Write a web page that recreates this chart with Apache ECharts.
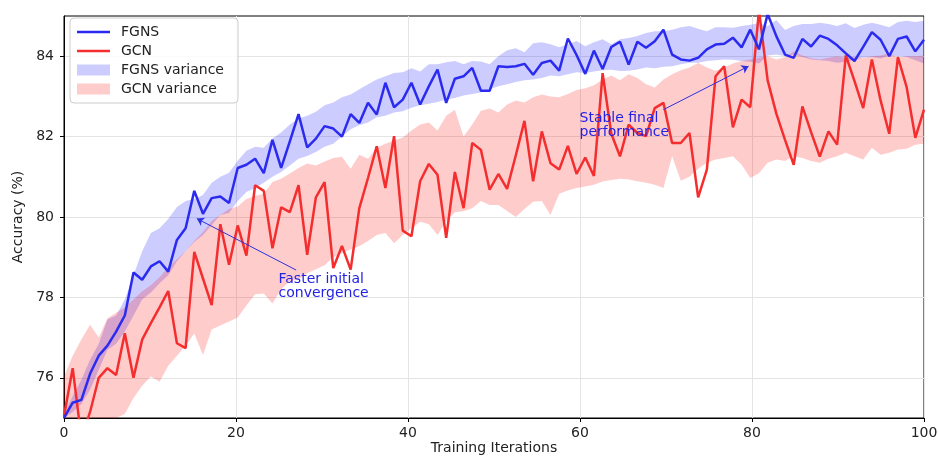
<!DOCTYPE html>
<html>
<head>
<meta charset="utf-8">
<script src="https://cdn.jsdelivr.net/npm/echarts@6/dist/echarts.min.js"></script>
<style>
html,body{margin:0;padding:0;background:#fff;}
#chart{width:938px;height:457px;}
</style>
</head>
<body>
<div id="chart"></div>
<script>
// x positions of the 100 training samples (0..100)
const iterations = [0,1.01,2.02,3.03,4.04,5.05,6.06,7.07,8.08,9.09,
10.1,11.11,12.12,13.13,14.14,15.15,16.16,17.17,18.18,19.19,
20.2,21.21,22.22,23.23,24.24,25.25,26.26,27.27,28.28,29.29,
30.3,31.31,32.32,33.33,34.34,35.35,36.36,37.37,38.38,39.39,
40.4,41.41,42.42,43.43,44.44,45.45,46.46,47.47,48.48,49.49,
50.51,51.52,52.53,53.54,54.55,55.56,56.57,57.58,58.59,59.6,
60.61,61.62,62.63,63.64,64.65,65.66,66.67,67.68,68.69,69.7,
70.71,71.72,72.73,73.74,74.75,75.76,76.77,77.78,78.79,79.8,
80.81,81.82,82.83,83.84,84.85,85.86,86.87,87.88,88.89,89.9,
90.91,91.92,92.93,93.94,94.95,95.96,96.97,97.98,98.99,100];

const fgnsAccuracy = [75.0,75.38,75.45,76.1,76.55,76.8,77.15,77.55,78.62,78.44,
78.77,78.9,78.64,79.43,79.72,80.65,80.08,80.47,80.51,80.35,
81.22,81.3,81.45,81.09,81.92,81.22,81.88,82.56,81.73,81.95,
82.26,82.2,82.0,82.56,82.34,82.84,82.55,83.34,82.73,82.92,
83.34,82.8,83.25,83.67,82.84,83.44,83.5,83.71,83.14,83.14,
83.75,83.73,83.75,83.81,83.54,83.83,83.89,83.64,84.44,84.03,
83.56,84.14,83.68,84.23,84.36,83.79,84.36,84.21,84.37,84.66,
84.04,83.92,83.89,83.96,84.17,84.29,84.31,84.46,84.22,84.66,
84.17,85.05,84.5,84.04,83.96,84.43,84.24,84.51,84.43,84.27,
84.07,83.88,84.23,84.6,84.41,84.0,84.43,84.49,84.12,84.41];

const gcnAccuracy = [75.05,76.24,74.5,75.15,76.0,76.24,76.07,77.11,76.0,76.95,
77.36,77.75,78.16,76.86,76.74,79.13,78.47,77.81,79.82,78.81,
79.79,79.04,80.79,80.65,79.22,80.24,80.12,80.79,79.06,80.49,
80.87,78.73,79.28,78.69,80.22,80.97,81.76,80.72,82.01,79.66,
79.52,80.89,81.32,81.05,79.48,81.12,80.22,81.84,81.67,80.68,
81.07,80.7,81.53,82.39,80.89,82.13,81.34,81.18,81.77,81.07,
81.48,81.02,83.58,82.07,81.51,82.3,82.09,82.01,82.71,82.84,
81.84,81.84,82.09,80.49,81.18,83.5,83.75,82.23,82.92,82.73,
85.15,83.4,82.57,81.92,81.3,82.75,82.11,81.5,82.13,81.8,
84.02,83.38,82.71,83.92,82.9,82.07,83.98,83.23,81.97,82.67];

const fgnsUpper = [75.10,75.55,75.95,76.45,76.85,77.45,77.55,77.95,78.55,79.15,
79.60,79.72,79.95,80.25,80.40,80.45,80.55,80.85,81.00,81.10,
81.40,81.65,81.75,81.72,81.95,82.10,82.30,82.45,82.52,82.62,
82.78,82.85,82.98,83.05,83.18,83.30,83.42,83.50,83.58,83.60,
83.70,83.62,83.80,83.80,83.85,83.88,83.80,83.88,83.87,83.80,
84.00,84.15,84.20,84.10,84.32,84.35,84.30,84.22,84.30,84.38,
84.25,84.35,84.42,84.30,84.42,84.45,84.50,84.58,84.62,84.62,
84.66,84.72,84.75,84.68,84.62,84.72,84.72,84.71,84.75,84.78,
84.82,84.75,84.90,84.65,84.75,84.80,84.80,84.83,84.80,84.75,
84.82,84.70,84.78,84.83,84.78,84.72,84.85,84.88,84.85,84.88];

const fgnsLower = [75.00,75.15,75.35,75.70,76.20,76.70,76.85,77.15,77.55,77.95,
78.12,78.35,78.55,78.90,79.15,79.38,79.55,79.80,80.05,80.10,
80.40,80.62,80.72,80.85,81.00,81.12,81.28,81.45,81.52,81.62,
81.75,81.82,82.00,82.18,82.28,82.35,82.48,82.52,82.60,82.63,
82.72,82.78,82.82,82.86,82.92,82.96,83.02,83.06,83.10,83.18,
83.25,83.30,83.36,83.40,83.42,83.46,83.52,83.50,83.55,83.60,
83.58,83.62,83.65,83.66,83.63,83.64,83.67,83.72,83.70,83.74,
83.75,83.80,83.84,83.84,83.88,83.90,83.92,83.91,83.88,83.86,
83.82,84.02,84.04,84.00,84.04,83.98,83.92,83.90,83.88,83.84,
83.86,83.92,83.96,83.98,83.94,84.02,84.00,83.98,83.90,83.82];

const gcnUpper = [76.03,76.55,76.95,77.32,77.00,77.48,77.62,77.75,77.95,78.15,
78.30,78.50,78.75,78.95,79.15,79.40,79.62,79.90,80.05,80.20,
80.26,80.45,80.52,80.58,80.87,80.95,81.08,81.22,81.33,81.28,
81.38,81.47,81.50,81.20,81.55,81.45,81.72,81.82,81.90,81.98,
82.15,82.30,82.35,82.15,82.52,82.67,82.00,82.30,82.64,82.70,
82.60,82.80,82.90,82.85,82.98,83.05,83.00,82.98,83.06,83.16,
83.20,83.28,83.42,83.52,83.40,83.55,83.46,83.30,83.22,83.42,
83.55,83.65,83.72,83.83,83.72,83.64,83.72,83.82,83.88,83.92,
83.96,84.00,83.92,83.98,84.12,84.02,83.95,83.92,83.96,84.00,
83.95,83.98,83.95,84.00,84.02,84.08,83.96,84.00,84.00,84.02];

const gcnLower = [74.90,74.80,74.70,74.60,74.50,74.60,74.80,75.10,75.50,75.80,
76.03,75.90,76.30,76.55,76.80,77.10,76.57,77.20,77.30,77.40,
77.50,77.80,78.08,78.10,77.85,78.20,78.40,78.45,78.60,78.70,
78.80,79.00,79.10,79.20,79.27,79.40,79.55,79.60,79.35,79.55,
79.72,79.88,79.82,79.55,79.90,80.12,80.14,80.22,80.40,80.30,
80.30,80.15,80.00,80.20,80.38,80.40,80.05,80.58,80.66,80.72,
80.76,80.80,80.88,80.92,80.95,80.93,80.89,80.85,80.80,80.72,
81.51,80.90,81.00,81.20,81.35,81.43,81.47,81.51,81.30,80.97,
81.09,81.35,81.43,81.39,81.51,81.47,81.39,81.35,81.45,81.51,
81.60,81.51,81.43,81.72,81.55,81.60,81.68,81.70,81.80,81.82];

const xTicks = [0, 20, 40, 60, 80, 100];
const yTicks = [76, 78, 80, 82, 84];

const seriesNames = ['FGNS', 'GCN', 'FGNS variance', 'GCN variance'];
const annotations = [
  {text: 'Faster initial\nconvergence', textAt: [25, 78], from: [27.0, 78.68], to: [15.45, 79.96]},
  {text: 'Stable final\nperformance', textAt: [60, 82], from: [69.7, 82.67], to: [79.6, 83.75]}
];

const FONT = 'DejaVu Sans';
const BLUE = '#2b2bf0';
const RED = '#f42e2e';
const pairs = ys => iterations.map((x, i) => [x, ys[i]]);
const LINE_ICON = 'path://M0,0H33V2.6H0Z';

const chart = echarts.init(document.getElementById('chart'), null, {renderer: 'canvas'});

// variance band: one polygon from upper edge and reversed lower edge, through the axis scales
const band = (name, up, lo, color) => ({
  name: name, type: 'custom', silent: true, z: 1,
  itemStyle: {color: color},
  encode: {x: 0, y: 1},
  data: [[iterations[0], lo[0]]],
  renderItem: (params, api) => {
    const pts = [];
    for (let i = 0; i < iterations.length; i++) pts.push(api.coord([iterations[i], up[i]]));
    for (let i = iterations.length - 1; i >= 0; i--) pts.push(api.coord([iterations[i], lo[i]]));
    const cs = params.coordSys;
    const clipped = echarts.graphic.clipPointsByRect(pts, {x: cs.x, y: cs.y, width: cs.width, height: cs.height});
    return {type: 'polygon', shape: {points: clipped}, style: {fill: color, stroke: null}};
  }
});

const option = {
  animation: false,
  backgroundColor: '#ffffff',
  textStyle: {fontFamily: FONT},
  grid: {left: 64, top: 16, width: 860, height: 402, show: true, borderColor: '#000', borderWidth: 1,
         backgroundColor: 'transparent', containLabel: false, outerBoundsMode: 'none'},
  legend: {
    orient: 'vertical', left: 70, top: 18,
    data: [
      {name: seriesNames[0], icon: LINE_ICON},
      {name: seriesNames[1], icon: LINE_ICON},
      {name: seriesNames[2], icon: 'rect'},
      {name: seriesNames[3], icon: 'rect'}
    ],
    itemWidth: 33, itemHeight: 11, itemGap: 5,
    symbolKeepAspect: true,
    padding: [7, 14, 7, 7],
    borderColor: '#cccccc', borderWidth: 1, borderRadius: 4,
    backgroundColor: 'rgba(255,255,255,0.85)',
    textStyle: {fontFamily: FONT, fontSize: 14, color: '#222', padding: [0, 0, 0, 6], lineHeight: 14},
    selectedMode: false
  },
  xAxis: {
    type: 'value', min: xTicks[0], max: xTicks[xTicks.length - 1], interval: 20,
    name: 'Training Iterations', nameLocation: 'middle', nameGap: 23, nameMoveOverlap: false,
    nameTextStyle: {fontFamily: FONT, fontSize: 14, color: '#222'},
    axisLine: {show: true, onZero: false, lineStyle: {color: '#000', width: 1}},
    axisTick: {show: true, length: 4, lineStyle: {color: '#000'}},
    axisLabel: {fontFamily: FONT, fontSize: 14, color: '#222', margin: 8},
    splitLine: {show: true, lineStyle: {color: '#e4e4e4', width: 1}}
  },
  yAxis: {
    type: 'value', min: 75, max: 85,
    name: 'Accuracy (%)', nameLocation: 'middle', nameGap: 38,
    nameTextStyle: {fontFamily: FONT, fontSize: 14, color: '#222'},
    axisLine: {show: true, onZero: false, lineStyle: {color: '#000', width: 1}},
    axisTick: {show: true, length: 4, lineStyle: {color: '#000'}, customValues: yTicks},
    axisLabel: {fontFamily: FONT, fontSize: 14, color: '#222', margin: 10, customValues: yTicks},
    splitLine: {show: true, lineStyle: {color: '#e4e4e4', width: 1}}
  },
  series: [
    band(seriesNames[2], fgnsUpper, fgnsLower, 'rgba(0,0,255,0.2)'),
    band(seriesNames[3], gcnUpper, gcnLower, 'rgba(255,0,0,0.2)'),
    {
      name: seriesNames[1], type: 'line', data: pairs(gcnAccuracy), symbol: 'none',
      lineStyle: {color: RED, width: 2.5}, itemStyle: {color: RED}, z: 3
    },
    {
      name: seriesNames[0], type: 'line', data: pairs(fgnsAccuracy), symbol: 'none',
      lineStyle: {color: BLUE, width: 2.5}, itemStyle: {color: BLUE}, z: 4,
      markLine: {
        silent: true, symbol: ['none', 'arrow'], symbolSize: 7,
        label: {show: false},
        lineStyle: {color: '#3030e0', width: 1, type: 'solid'},
        data: annotations.map(a => [{coord: a.from}, {coord: a.to}])
      },
      markPoint: {
        silent: true, symbol: 'circle', symbolSize: 1,
        itemStyle: {color: 'transparent'},
        data: annotations.map(a => ({
          coord: a.textAt,
          label: {
            show: true, formatter: a.text, position: [0, 3], align: 'left', verticalAlign: 'bottom',
            fontFamily: FONT, fontSize: 14, lineHeight: 14, color: '#2222e6'
          }
        }))
      }
    }
  ]
};
chart.setOption(option);
</script>
</body>
</html>
